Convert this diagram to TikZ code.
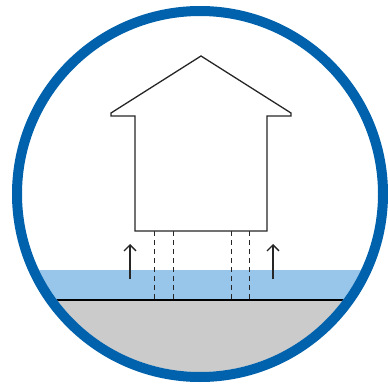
\documentclass[tikz,border=0pt]{standalone}
\usepackage{tikz}
\usetikzlibrary{arrows.meta}
\definecolor{ringblue}{RGB}{0,98,172}
\definecolor{waterblue}{RGB}{152,198,234}
\definecolor{soilgray}{RGB}{203,203,203}
\tikzstyle{outline} = [draw=black!85, line width=1.3pt, line join=miter]
\tikzstyle{pile} = [draw=black!85, line width=1pt, dash pattern=on 5pt off 4pt]
\tikzstyle{uplift} = [draw=black!85, line width=1.3pt, -{Straight Barb[length=6pt,width=12pt]}]

\begin{document}
\begin{tikzpicture}[x=1pt, y=-1pt]
        \useasboundingbox (0,0) rectangle (388,385);
        % Punkte fuer Ring, Haus und Boden
        \coordinate (centre) at (200,194);
        \coordinate (apex) at (201,56);
        \coordinate (eaveL) at (111,113);
        \coordinate (eaveR) at (291,113);
        \coordinate (wallL) at (135,116);
        \coordinate (wallR) at (267,116);

        % Wasser und Boden, auf den Ring zugeschnitten
        \begin{scope}
            \clip (centre) circle (178);
            \fill[waterblue] (0,270) rectangle (388,300);
            \fill[soilgray] (0,300) rectangle (388,385);
            \draw[black, line width=2pt] (0,300) -- (388,300);
        \end{scope}

        % Pfaehle unter dem Haus
        \foreach \px in {154,173,231,249}
            \draw[pile] (\px,231) -- (\px,299);

        % Auftrieb
        \coordinate (liftL0) at (130,279);
        \coordinate (liftL1) at (130,244);
        \coordinate (liftR0) at (273,279);
        \coordinate (liftR1) at (273,244);
        \draw[uplift] (liftL0) -- (liftL1);
        \draw[uplift] (liftR0) -- (liftR1);

        % Haus
        \draw[outline, fill=white] (apex) -- (eaveR) -- (291,116) -- (wallR)
            -- (267,231) -- (135,231) -- (wallL) -- (111,116) -- (eaveL) -- cycle;

        % Ring
        \draw[ringblue, line width=10pt] (centre) circle (183);
\end{tikzpicture}
\end{document}
